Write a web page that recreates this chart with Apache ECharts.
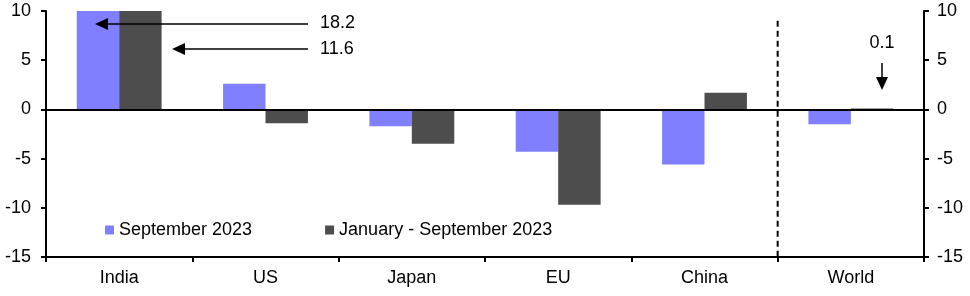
<!DOCTYPE html>
<html lang="en">
<head>
  <meta charset="UTF-8">
  <script src="https://cdn.jsdelivr.net/npm/echarts@6/dist/echarts.min.js"></script>
  <title>September 2023</title>
  <style>
    html, body { margin: 0; padding: 0; background: #ffffff; }
    #chart { width: 970px; height: 296px; }
  </style>
</head>
<body>
  <div id="chart"></div>
<script>
  const categories = ['India', 'US', 'Japan', 'EU', 'China', 'World'];
  const september = [18.2, 2.6, -1.7, -4.3, -5.6, -1.5];
  const janToSep = [11.6, -1.4, -3.5, -9.7, 1.7, 0.1];
  const seriesNames = ['September 2023', 'January - September 2023'];

  const font = 'Liberation Sans, Arial, sans-serif';
  const chart = echarts.init(document.getElementById('chart'));

  const yAxisBase = {
    type: 'value',
    min: -15,
    max: 10,
    interval: 5,
    splitLine: { show: false },
    axisLine: { show: true, lineStyle: { color: '#000', width: 2 } },
    axisTick: { show: true, length: 5, lineStyle: { color: '#000', width: 2 } },
    axisLabel: { color: '#000', fontSize: 18, fontFamily: font }
  };

  const option = {
    animation: false,
    grid: { left: 46, right: 46, top: 11, bottom: 39 },
    legend: {
      left: 105,
      top: 221,
      padding: 0,
      icon: 'rect',
      itemWidth: 9,
      itemHeight: 9,
      itemGap: 73,
      textStyle: { color: '#000', fontSize: 18, fontFamily: font },
      data: seriesNames
    },
    xAxis: {
      type: 'category',
      data: categories,
      axisLine: { onZero: false, lineStyle: { color: '#000', width: 2 } },
      axisTick: { show: true, length: 5, alignWithLabel: false, lineStyle: { color: '#000', width: 2 } },
      axisLabel: { color: '#000', fontSize: 18, fontFamily: font, margin: 12 }
    },
    yAxis: [
      Object.assign({}, yAxisBase, { position: 'left', axisLabel: Object.assign({}, yAxisBase.axisLabel, { margin: 15 }) }),
      Object.assign({}, yAxisBase, { position: 'right', axisLabel: Object.assign({}, yAxisBase.axisLabel, { margin: 13 }) })
    ],
    series: [
      {
        name: seriesNames[0],
        type: 'bar',
        data: september,
        barGap: 0,
        barCategoryGap: '42%',
        itemStyle: { color: '#8080FF' },
        markLine: {
          silent: true,
          symbol: 'none',
          z: 10,
          label: { show: false },
          lineStyle: { color: '#000', width: 2, type: 'solid' },
          data: [{ yAxis: 0 }]
        }
      },
      {
        name: seriesNames[1],
        type: 'bar',
        data: janToSep,
        barGap: 0,
        barCategoryGap: '42%',
        itemStyle: { color: '#4D4D4D' }
      }
    ]
  };
  chart.setOption(option);

  // separator between China and World, and the annotations for off-scale values
  const a = chart.convertToPixel({ xAxisIndex: 0, yAxisIndex: 0 }, ['China', -15]);
  const b = chart.convertToPixel({ xAxisIndex: 0, yAxisIndex: 0 }, ['World', 9]);
  const sepX = (a[0] + b[0]) / 2;

  const arrowLeft = (tipX, tailX, y) => [
    { type: 'line', z: 100, shape: { x1: tipX + 10, y1: y, x2: tailX, y2: y }, style: { stroke: '#000', lineWidth: 1.5 } },
    { type: 'polygon', z: 100, shape: { points: [[tipX, y], [tipX + 13, y - 6], [tipX + 13, y + 6]] }, style: { fill: '#000' } }
  ];
  const arrowDown = (x, y1, tipY) => [
    { type: 'line', z: 100, shape: { x1: x, y1: y1, x2: x, y2: tipY - 10 }, style: { stroke: '#000', lineWidth: 1.5 } },
    { type: 'polygon', z: 100, shape: { points: [[x, tipY], [x - 6, tipY - 13], [x + 6, tipY - 13]] }, style: { fill: '#000' } }
  ];
  const label = (text, x, y, align) => ({
    type: 'text',
    z: 100,
    style: { text: text, x: x, y: y, fill: '#000', fontSize: 18, fontFamily: font, align: align, verticalAlign: 'middle' }
  });

  chart.setOption({
    graphic: [
      { type: 'line', z: 100, shape: { x1: sepX, y1: b[1], x2: sepX, y2: a[1] }, style: { stroke: '#000', lineWidth: 2, lineDash: [6, 4] } }
    ]
      .concat(arrowLeft(95, 308, 24))
      .concat(arrowLeft(172, 308, 49))
      .concat(arrowDown(882, 63, 90))
      .concat([
        label(String(september[0]), 320, 23, 'left'),
        label(String(janToSep[0]), 320, 49, 'left'),
        label(String(janToSep[5]), 882, 43, 'center')
      ])
  });
</script>
</body>
</html>
